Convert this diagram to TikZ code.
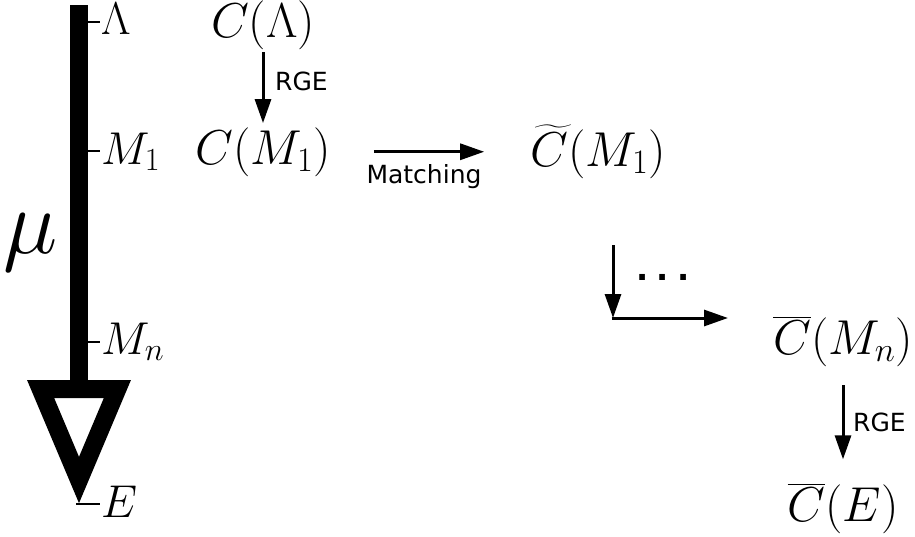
\RequirePackage{fix-cm}
\documentclass[tikz,border=0pt]{standalone}
\usepackage{exscale}
\usepackage{fontspec}
\newfontfamily\dejavu{DejaVu Sans}
\newfontfamily\dejavub{DejaVu Sans Bold}
\usetikzlibrary{arrows.meta,calc}
\begin{document}
\begin{tikzpicture}[x=1pt,y=-1pt,
  axlbl/.style={inner sep=0pt,font=\fontsize{46}{54}\selectfont},
  mathlbl/.style={inner sep=0pt,font=\fontsize{49}{58}\selectfont},
  sanslbl/.style={inner sep=0pt,font=\dejavu\fontsize{25}{29}\selectfont},
  arr/.style={line width=3pt,-{Triangle[length=24pt,width=16pt]}},
  tick/.style={line width=1.5pt}]
\useasboundingbox (0,0) rectangle (915,536);
% scale axis
\fill (70,5) rectangle (88,390);
\draw[line width=18pt,line join=miter] (40.6,389) -- (117.4,389) -- (79,480) -- cycle;
\coordinate (tL) at (88,22);
\coordinate (tM1) at (88,151);
\coordinate (tMn) at (88,342);
\coordinate (tE) at (76,504);
\draw[tick] (tL) -- ++(12,0);
\draw[tick] (tM1) -- ++(12,0);
\draw[tick] (tMn) -- ++(12,0);
\draw[tick] (tE) -- ++(24,0);
\node[axlbl,anchor=base west] (lL) at (101,34) {$\Lambda$};
\node[axlbl,anchor=base west] (lM1) at (101,164) {$M_1$};
\node[axlbl,anchor=base west] (lMn) at (101,354) {$M_n$};
\node[axlbl,anchor=base west] (lE) at (101,517) {$E$};
\node[inner sep=0pt,anchor=base west,font=\fontsize{92}{100}\selectfont] (mu) at (3,253) {$\mu$};
% coefficients
\node[mathlbl,anchor=base] (CL) at (263,37) {$C(\Lambda)$};
\node[mathlbl,anchor=base] (CM1) at (263,164) {$C(M_1)$};
\node[mathlbl,anchor=base] (CtM1) at (598,166) {$\widetilde{C}(M_1)$};
\node[mathlbl,anchor=base] (CbMn) at (843,354) {$\overline{C}(M_n)$};
\node[mathlbl,anchor=base] (CbE) at (843,521) {$\overline{C}(E)$};
% arrows
\draw[arr,shorten <=3pt,shorten >=4pt] (CL.south) -- (CL.south |- CM1.north);
\node[sanslbl,anchor=base west] (rge1) at (275,90) {RGE};
\draw[arr,shorten <=43pt,shorten >=46pt] (CM1.east) -- (CM1.east -| CtM1.west);
\node[sanslbl,anchor=base] (match) at (424,183) {Matching};
\coordinate (e1) at (613,245);
\coordinate (e2) at (613,318);
\coordinate (e3) at (728,318);
\draw[arr] (e1) -- (e2);
\draw[arr,shorten <=-1.5pt] (e2) -- (e3);
\node[inner sep=0pt,font=\dejavub\fontsize{32}{34}\selectfont] (dots) at (663,277) {.\hspace{8pt}.\hspace{8pt}.};
\draw[arr,shorten <=19pt,shorten >=23pt] (CbMn.south) -- (CbMn.south |- CbE.north);
\node[sanslbl,anchor=base west] (rge2) at (853,431) {RGE};
\end{tikzpicture}
\end{document}
